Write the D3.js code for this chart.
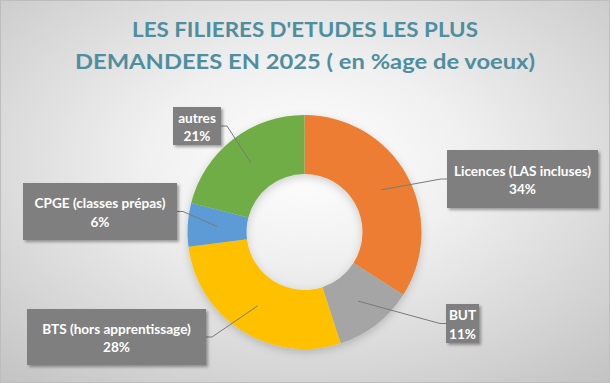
<!DOCTYPE html>
<html><head><meta charset="utf-8">
<script src="https://cdn.jsdelivr.net/npm/d3@7"></script>
<style>html,body{margin:0;padding:0;background:#fff}svg{display:block}</style>
</head><body>
<svg id="c" width="610" height="383"></svg>
<script>
// ---- data ----
const categories = ["Licences (LAS incluses)", "BUT", "BTS (hors apprentissage)", "CPGE (classes prépas)", "autres"];
const values = [34, 11, 28, 6, 21];
const valueLabels = ["34%", "11%", "28%", "6%", "21%"];
const colors = ["#ED7D31", "#A5A5A5", "#FFC000", "#5B9BD5", "#70AD47"];
const titleLines = ["LES FILIERES D'ETUDES LES PLUS", "DEMANDEES EN 2025 ( en %age de voeux)"];
// label box layout (x, y, w, h) and elbow direction
const labelBoxes = [
  {x: 447, y: 150, w: 151, h: 58, side: "left"},
  {x: 446, y: 304, w: 33, h: 39, side: "left"},
  {x: 27, y: 309, w: 179, h: 56, side: "right"},
  {x: 23, y: 183, w: 154, h: 57, side: "right"},
  {x: 173, y: 107, w: 48, h: 38, side: "right"}
];
const titleWidths = [346, 460];

const W = 610, H = 383;
const svg = d3.select("#c");
const defs = svg.append("defs");

const bg = defs.append("radialGradient").attr("id", "bg")
  .attr("cx", "50%").attr("cy", "42%").attr("r", "75%");
bg.append("stop").attr("offset", "0%").attr("stop-color", "#ffffff");
bg.append("stop").attr("offset", "35%").attr("stop-color", "#f0f0f0");
bg.append("stop").attr("offset", "100%").attr("stop-color", "#c4c4c4");

const sh = defs.append("filter").attr("id", "sh").attr("x", "-20%").attr("y", "-20%").attr("width", "150%").attr("height", "150%");
sh.append("feDropShadow").attr("dx", 2).attr("dy", 2).attr("stdDeviation", 1.5).attr("flood-color", "#000").attr("flood-opacity", 0.35);
const sh2 = defs.append("filter").attr("id", "sh2").attr("x", "-20%").attr("y", "-20%").attr("width", "140%").attr("height", "140%");
sh2.append("feDropShadow").attr("dx", 0).attr("dy", 3).attr("stdDeviation", 4).attr("flood-color", "#000").attr("flood-opacity", 0.18);

svg.append("rect").attr("width", W).attr("height", H).attr("fill", "url(#bg)");
svg.append("rect").attr("x", 0.5).attr("y", 0.5).attr("width", W - 1).attr("height", H - 1)
  .attr("fill", "none").attr("stroke", "#bdbdbd");

// title
svg.append("g").selectAll("text").data(titleLines).join("text")
  .attr("x", 305).attr("y", (d, i) => 37 + i * 32)
  .attr("text-anchor", "middle")
  .attr("font-family", "Lato, 'Open Sans', sans-serif")
  .attr("font-weight", 700).attr("font-size", 21.5)
  .attr("textLength", (d, i) => titleWidths[i]).attr("lengthAdjust", "spacingAndGlyphs")
  .attr("fill", "#4F8E9F")
  .text(d => d);

// donut
const cx = 304.5, cy = 232, rOuter = 117, rInner = 58;
const pie = d3.pie().sort(null).value(d => d)(values);
const arc = d3.arc().innerRadius(rInner).outerRadius(rOuter);
const g = svg.append("g").attr("transform", `translate(${cx},${cy})`);
g.append("g").attr("filter", "url(#sh2)").selectAll("path").data(pie).join("path")
  .attr("d", arc).attr("fill", (d, i) => colors[i]);

// leader lines
const lg = svg.append("g");
pie.forEach((d, i) => {
  const c = arc.centroid(d);
  const px = cx + c[0], py = cy + c[1];
  const b = labelBoxes[i];
  const by = b.y + b.h / 2;
  let bx, ex;
  if (b.side === "left") { bx = b.x; ex = bx - 6; } else { bx = b.x + b.w; ex = bx + 6; }
  lg.append("path")
    .attr("d", d3.line()([[bx, by], [ex, by], [px, py]]))
    .attr("fill", "none").attr("stroke", "#7a7a7a").attr("stroke-width", 1);
});

// label boxes
const bgG = svg.append("g");
labelBoxes.forEach((b, i) => {
  bgG.append("rect").attr("x", b.x).attr("y", b.y).attr("width", b.w).attr("height", b.h)
    .attr("fill", "#7F7F7F").attr("filter", "url(#sh)");
  const mx = b.x + b.w / 2, my = b.y + b.h / 2;
  [categories[i], valueLabels[i]].forEach((t, k) => {
    bgG.append("text").attr("x", mx).attr("y", my + (k === 0 ? -8 : 10.5))
      .attr("dy", "0.36em").attr("text-anchor", "middle")
      .attr("font-family", "Lato, 'Open Sans', sans-serif")
      .attr("font-weight", 700).attr("font-size", 13.6).attr("fill", "#fff")
      .text(t);
  });
});
</script>
</body></html>
